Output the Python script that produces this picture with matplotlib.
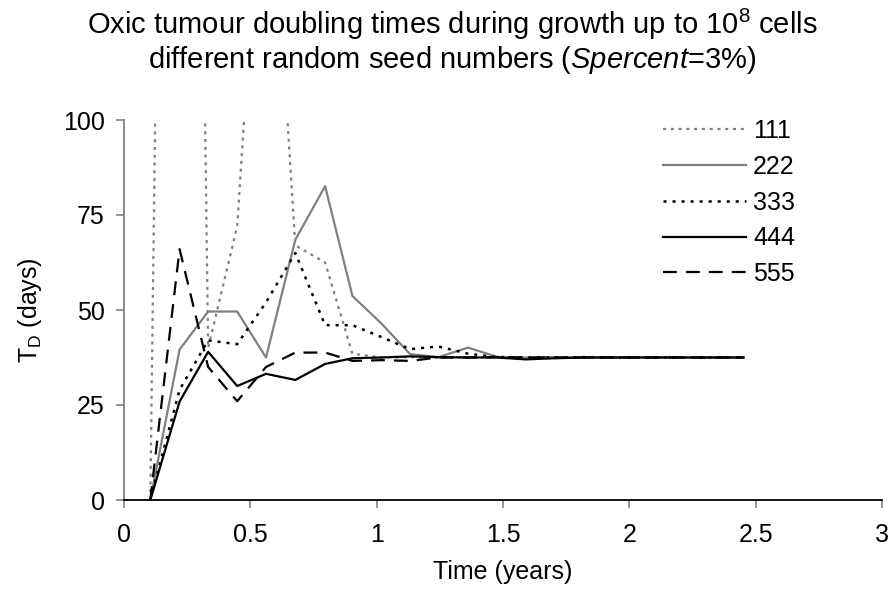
import matplotlib
matplotlib.use("Agg")
import matplotlib.pyplot as plt

# ---- data ----
time = [0.104, 0.22, 0.333, 0.448, 0.562, 0.678, 0.796, 0.904, 1.018, 1.132, 1.244,
        1.362, 1.475, 1.59, 1.704, 1.818, 1.932, 2.046, 2.16, 2.274, 2.388, 2.452]

s111 = [0, 600, 40, 72, 190, 67, 62.5, 38.5, 37.5, 37.6, 37.4, 37.5, 37.6, 37.5,
        37.5, 37.5, 37.6, 37.5, 37.5, 37.5, 37.5, 37.5]
s222 = [0, 39.6, 49.6, 49.6, 37.5, 68.5, 82.6, 53.7, 46.5, 38.4, 37.6, 40.1, 37.7,
        37.5, 37.6, 37.5, 37.5, 37.5, 37.6, 37.5, 37.5, 37.5]
s333 = [0, 29, 42, 41, 52, 65, 46, 46, 42.9, 39.7, 40.4, 38.5, 37.6, 37.5, 37.5,
        37.6, 37.5, 37.5, 37.5, 37.5, 37.5, 37.5]
s444 = [0, 25.9, 39.0, 30.0, 33.2, 31.6, 35.8, 37.3, 37.5, 37.8, 37.6, 37.5, 37.5,
        37.0, 37.3, 37.5, 37.5, 37.5, 37.5, 37.5, 37.5, 37.5]
s555 = [0, 66, 35, 26, 35, 38.8, 38.8, 36.6, 36.8, 36.6, 37.5, 37.5, 37.6, 37.5,
        37.5, 37.5, 37.5, 37.5, 37.5, 37.5, 37.5, 37.5]

series = [s111, s222, s333, s444, s555]
labels = ["111", "222", "333", "444", "555"]

x_ticks = [0, 0.5, 1, 1.5, 2, 2.5, 3]
x_ticklabels = ["0", "0.5", "1", "1.5", "2", "2.5", "3"]
y_ticks = [0, 25, 50, 75, 100]
y_ticklabels = ["0", "25", "50", "75", "100"]

# ---- style ----
plt.rcParams['font.family'] = ['Liberation Sans', 'DejaVu Sans']
plt.rcParams['mathtext.fontset'] = 'custom'
plt.rcParams['mathtext.rm'] = 'Liberation Sans'
plt.rcParams['mathtext.it'] = 'Liberation Sans:italic'
plt.rcParams['mathtext.bf'] = 'Liberation Sans:bold'
plt.rcParams['lines.scale_dashes'] = False

GRAY = '#808080'
FS = 18

fig = plt.figure(figsize=(8.95, 6.01), dpi=100)
ax = fig.add_axes([124/895, 1 - 500/601, 758/895, 380/601])

styles = [
    dict(color=GRAY, lw=1.6, linestyle=(0, (2.2, 3.4))),
    dict(color=GRAY, lw=1.6, linestyle='-'),
    dict(color='black', lw=1.8, linestyle=(0, (2.2, 4.3))),
    dict(color='black', lw=1.6, linestyle='-'),
    dict(color='black', lw=1.6, linestyle=(0, (10, 6.5))),
]
for ys, lab, st in zip(series, labels, styles):
    ax.plot(time, ys, label=lab, **st)

ax.set_xlim(0, 3)
ax.set_ylim(0, 100)
ax.set_xticks(x_ticks)
ax.set_xticklabels(x_ticklabels)
ax.set_yticks(y_ticks)
ax.set_yticklabels(y_ticklabels)

for s in ['top', 'right']:
    ax.spines[s].set_visible(False)
ax.spines['left'].set_color(GRAY)
ax.spines['left'].set_linewidth(1.3)
ax.spines['bottom'].set_color('black')
ax.spines['bottom'].set_linewidth(1.3)

ax.tick_params(axis='both', direction='out', length=5.8, width=1.2, color=GRAY,
               labelsize=FS, labelcolor='black')
ax.tick_params(axis='x', pad=11)
ax.tick_params(axis='y', pad=8)

ax.set_xlabel("Time (years)", fontsize=FS, labelpad=9)
ax.set_ylabel(r"T$_\mathregular{D}$ (days)", fontsize=FS, labelpad=14)

leg = ax.legend(loc='upper left', bbox_to_anchor=(663/895, 1 - 119/601),
                bbox_transform=fig.transFigure, frameon=False, fontsize=FS,
                handlelength=3.3, handletextpad=0.3, labelspacing=0.47,
                borderpad=0, borderaxespad=0)

fig.text(0.505, 1 - 34/601, r"Oxic tumour doubling times during growth up to 10$^8$ cells",
         ha='center', va='baseline', fontsize=21)
fig.text(0.505, 1 - 68/601, r"different random seed numbers ($\mathit{Spercent}$=3%)",
         ha='center', va='baseline', fontsize=21)

fig.savefig("out.png", dpi=100)
